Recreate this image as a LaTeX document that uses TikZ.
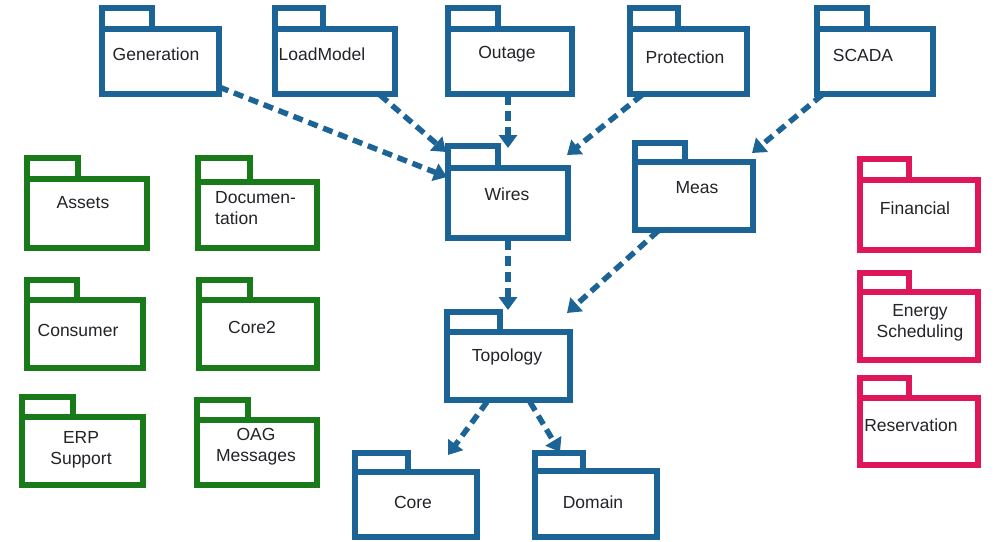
\documentclass[tikz,border=0pt]{standalone}
\usepackage{fontspec}
\setmainfont{Liberation Sans}
\usetikzlibrary{arrows.meta,calc}
\definecolor{pblue}{RGB}{28,100,150}
\definecolor{pgreen}{RGB}{24,122,24}
\definecolor{ppink}{RGB}{224,22,92}
\definecolor{ptext}{RGB}{35,35,40}
% name, colour, left, tab top, tab right, body top, right, bottom
\newcommand\pkgbox[8]{%
  \node[pkgbody, draw=#2, minimum width={(#7-#3)*1pt}, minimum height={(#8-#6)*1pt}]
    (#1) at ({(#3+#7)/2},{(#6+#8)/2}) {};
  \draw[pkgline, draw=#2] (#1.north west) rectangle ($(#1.north west)+({#5-#3},{#4-#6})$);
}
\begin{document}
\begin{tikzpicture}[x=1pt,y=-1pt,
  pkgbody/.style={rectangle, line width=5.5pt, fill=white, inner sep=0pt, outer sep=0pt},
  pkgline/.style={line width=5.5pt},
  lbl/.style={text=ptext, font=\fontsize{17.5}{21}\selectfont, inner sep=0pt, align=center},
  dep/.style={draw=pblue, line width=5.5pt, dash pattern=on 10pt off 6pt,
              -{Triangle[width=18pt,length=13pt]}}]
\fill[white] (0,0) rectangle (1000,541);
\useasboundingbox (0,0) rectangle (1000,541);
% blue packages
\pkgbox{gen}{pblue}{102}{8}{152}{29}{219}{94}
\pkgbox{load}{pblue}{275}{8}{323}{29}{395}{94}
\pkgbox{outage}{pblue}{448}{8}{498}{29}{572}{94}
\pkgbox{prot}{pblue}{630}{8}{678}{29}{747}{94}
\pkgbox{scada}{pblue}{817}{8}{867}{29}{933}{94}
\pkgbox{wires}{pblue}{448}{146}{498}{168}{568}{238}
\pkgbox{meas}{pblue}{635}{143}{685}{162}{753}{230}
\pkgbox{topo}{pblue}{447}{312}{500}{332}{570}{400}
\pkgbox{core}{pblue}{355}{453}{408}{472}{477}{537}
\pkgbox{domain}{pblue}{535}{453}{583}{471}{657}{537}
% green packages
\pkgbox{assets}{pgreen}{27}{158}{78}{179}{147}{248}
\pkgbox{doc}{pgreen}{198}{158}{250}{182}{317}{248}
\pkgbox{consumer}{pgreen}{27}{280}{77}{300}{143}{368}
\pkgbox{core2}{pgreen}{199}{280}{250}{300}{317}{368}
\pkgbox{erp}{pgreen}{22}{397}{73}{417}{143}{485}
\pkgbox{oag}{pgreen}{197}{400}{248}{420}{317}{485}
% pink packages
\pkgbox{fin}{ppink}{860}{159}{909}{180}{978}{250}
\pkgbox{energy}{ppink}{860}{273}{909}{292}{978}{360}
\pkgbox{reserv}{ppink}{860}{378}{909}{398}{978}{465}
% labels
\node[lbl] (gen-t) at (156,54) {Generation};
\node[lbl] (load-t) at (322,54) {LoadModel};
\node[lbl] (outage-t) at (507,54) {Outage};
\node[lbl] (prot-t) at (685,57) {Protection};
\node[lbl] (scada-t) at (863,55) {SCADA};
\node[lbl] (wires-t) at (507,194) {Wires};
\node[lbl] (meas-t) at (697,188) {Meas};
\node[lbl] (topo-t) at (507,357) {Topology};
\node[lbl] (core-t) at (413,502) {Core};
\node[lbl] (domain-t) at (593,502) {Domain};
\node[lbl] (assets-t) at (83,203) {Assets};
\node[lbl, align=left, anchor=west] (doc-t) at (215,208) {Documen-\\tation};
\node[lbl] (consumer-t) at (78,330) {Consumer};
\node[lbl] (core2-t) at (252,327) {Core2};
\node[lbl] (erp-t) at (81,450) {ERP\\Support};
\node[lbl] (oag-t) at (256,447) {OAG\\Messages};
\node[lbl] (fin-t) at (915,208) {Financial};
\node[lbl] (energy-t) at (920,323) {Energy\\Scheduling};
\node[lbl] (reserv-t) at (911,425) {Reservation};
% dependencies
\draw[dep] ($(gen.south east)+(0,-7)$) -- ($(wires.north west)+(-1,9)$);
\draw[dep] ($(load.south east)+(-15,1)$) -- ($(wires.north west)+(-2,-16)$);
\draw[dep] ($(outage.south west)+(60,1)$) -- ($(wires.north west)+(60,-20)$);
\draw[dep] ($(prot.south west)+(12,1)$) -- ($(wires.north east)+(-1,-13)$);
\draw[dep] ($(scada.south west)+(5,1)$) -- ($(meas.north east)+(-1,-9)$);
\draw[dep] ($(wires.south west)+(60,2)$) -- ($(topo.north west)+(61,-22)$);
\draw[dep] ($(meas.south west)+(23,1)$) -- ($(topo.north east)+(-3,-19)$);
\draw[dep] ($(topo.south west)+(40,2)$) -- ($(core.north west)+(93,-17)$);
\draw[dep] ($(topo.south west)+(83,2)$) -- ($(domain.north west)+(25,-19)$);
\end{tikzpicture}
\end{document}
